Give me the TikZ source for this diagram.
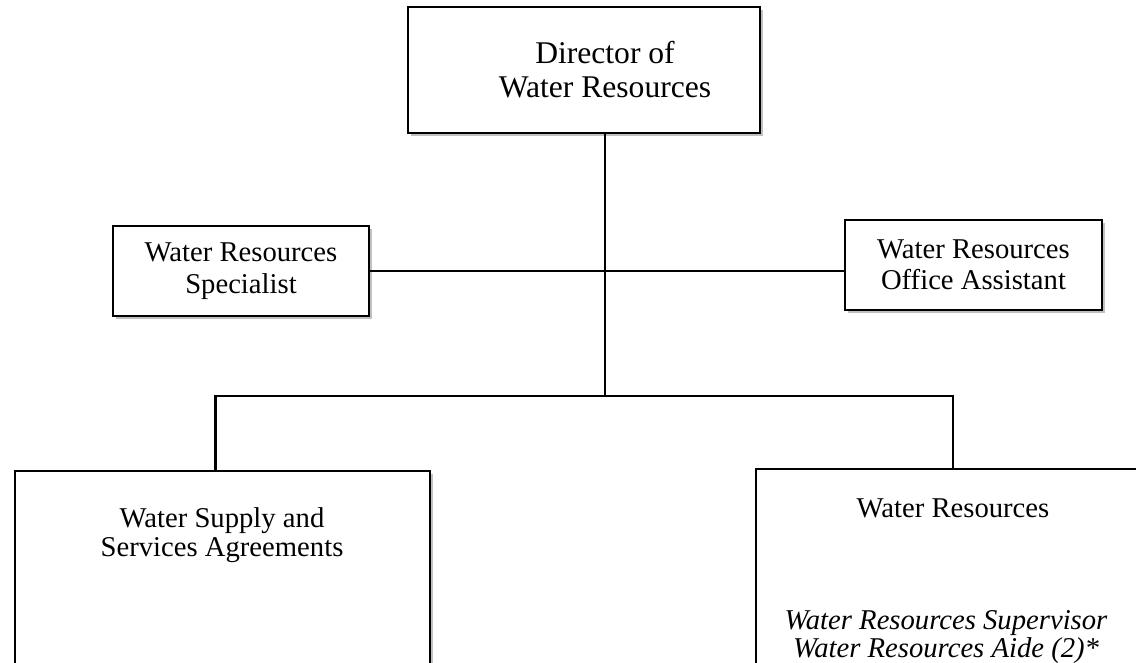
\documentclass[tikz,border=0pt]{standalone}
\usepackage{fontspec}
\setmainfont{Liberation Serif}
\usetikzlibrary{shadows}
\tikzset{
  orgbox/.style={rectangle,draw=black,line width=1.8pt,fill=white,inner sep=0pt,align=center,
    drop shadow={shadow xshift=2.6pt,shadow yshift=-2.6pt,opacity=0.45,fill=black!55}},
  link/.style={draw=black,line width=2.2pt},
  boxtext/.style={font=\fontsize{21.5}{23.5}\selectfont,align=center,inner sep=0pt},
  headtext/.style={font=\fontsize{23.7}{25.5}\selectfont,align=center,inner sep=0pt},
  linetext/.style={font=\fontsize{21.5}{23.5}\selectfont,inner sep=0pt,anchor=base},
  staff/.style={linetext,font=\fontsize{21.5}{23.5}\selectfont\itshape},
}
\begin{document}
\begin{tikzpicture}[x=0.75pt,y=-0.75pt]
  \useasboundingbox (0,0) rectangle (1136,663);
  \clip (0,0) rectangle (1136,663);

  % boxes
  \node[orgbox, minimum width=264pt, minimum height=94.5pt] (director) at (584,70) {};
  \node[headtext] (dirlabel) at (605,70) {Director of\\Water Resources};

  \node[orgbox, boxtext, minimum width=192pt, minimum height=67.5pt] (specialist) at (241,271)
    {Water Resources\\Specialist};
  \node[orgbox, boxtext, minimum width=192.75pt, minimum height=67.5pt] (office) at (973.5,265)
    {Water Resources\\Office Assistant};

  \node[orgbox, minimum width=311.25pt, minimum height=186.75pt] (supply) at (222.5,595.5) {};
  \node[linetext] (supplyA) at (222,527) {Water Supply and};
  \node[linetext] (supplyB) at (222,556) {Services Agreements};

  \node[orgbox, minimum width=295.5pt, minimum height=188.25pt] (wres) at (953,594.5) {};
  \node[linetext] (wresA) at (953,517) {Water Resources};
  \node[staff] (wresB) at (946,629) {Water Resources Supervisor};
  \node[staff] (wresC) at (946,657) {Water Resources Aide (2)*};

  % connectors
  \coordinate (trunk) at (605,396);
  \draw[link] (director.south -| trunk) -- (trunk);
  \draw[link] (specialist.east) -- (specialist.east -| office.west);
  \draw[link] ([xshift=-5.25pt]supply.north) |- (trunk) -| (wres.north);
\end{tikzpicture}
\end{document}
